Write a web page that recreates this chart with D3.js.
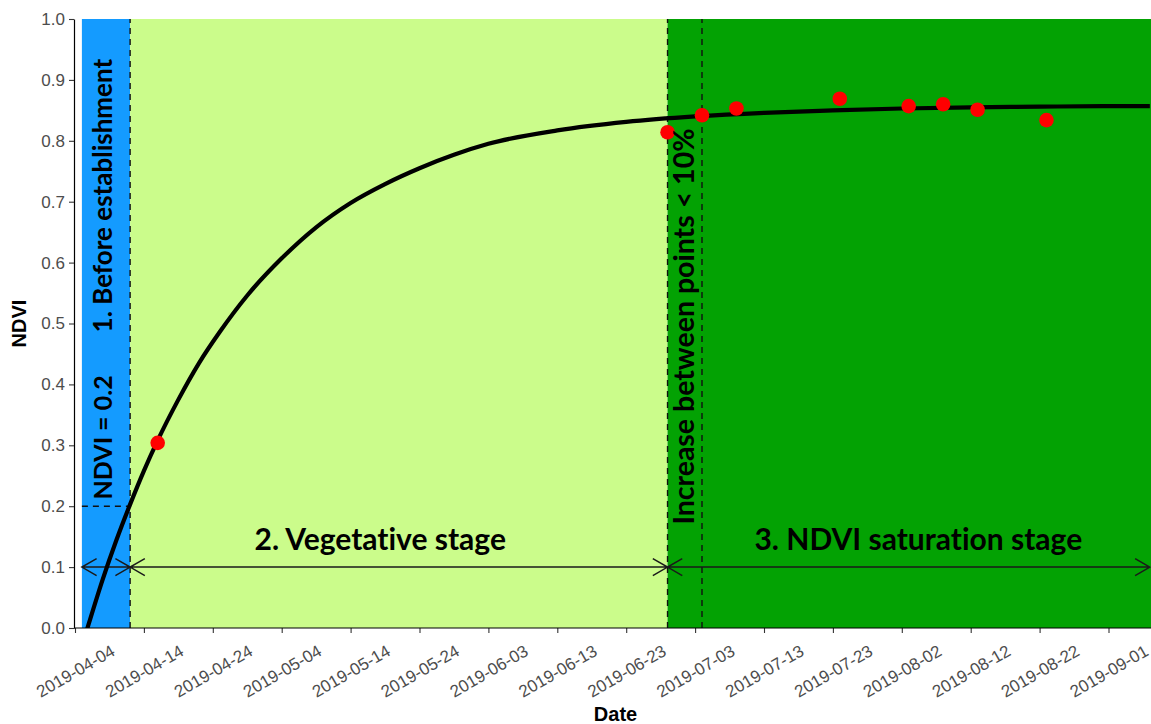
<!DOCTYPE html>
<html>
<head>
<meta charset="utf-8">
<script src="https://cdn.jsdelivr.net/npm/d3@7"></script>
<style>
    body { margin: 0; background: #fff; }
    svg { display: block; }
    text { font-variant-ligatures: none; }
</style>
</head>
<body>
<div class="Canvas"></div>
<script>
// fitted NDVI curve
const curveDates = ['2019-04-05', '2019-04-06', '2019-04-08', '2019-04-10', '2019-04-12', '2019-04-14',
    '2019-04-16', '2019-04-19', '2019-04-22', '2019-04-25', '2019-04-29', '2019-05-04', '2019-05-09',
    '2019-05-14', '2019-05-19', '2019-05-24', '2019-05-29', '2019-06-03', '2019-06-13', '2019-06-23',
    '2019-07-03', '2019-07-13', '2019-07-23', '2019-08-02', '2019-08-12', '2019-08-22', '2019-09-01', '2019-09-07'];
const curveNdvi = [-0.03, 0.007, 0.079, 0.144, 0.203, 0.258,
    0.308, 0.375, 0.435, 0.486, 0.546, 0.607, 0.658,
    0.698, 0.729, 0.755, 0.777, 0.795, 0.817, 0.831,
    0.84, 0.846, 0.85, 0.853, 0.855, 0.856, 0.857, 0.857];

// observed NDVI (red points)
const pointDates = ['2019-04-16', '2019-06-29', '2019-07-04', '2019-07-09', '2019-07-24',
    '2019-08-03', '2019-08-08', '2019-08-13', '2019-08-23'];
const pointNdvi = [0.304, 0.814, 0.842, 0.853, 0.869, 0.857, 0.86, 0.851, 0.834];

// stage limits: before establishment / vegetative / saturation
const stageStarts = ['2019-04-05', '2019-04-12', '2019-06-29'];
const stageEnds = ['2019-04-12', '2019-06-29', '2019-09-07'];
const stageNames = ['1. Before establishment', '2. Vegetative stage', '3. NDVI saturation stage'];
const stageColors = ['#149BFF', '#CBFC8B', '#03A203'];

const dashedDates = ['2019-04-12', '2019-06-29', '2019-07-04'];
const thresholdNdvi = 0.2;
const arrowNdvi = 0.1;

const xTickLabels = ['2019-04-04', '2019-04-14', '2019-04-24', '2019-05-04', '2019-05-14', '2019-05-24',
    '2019-06-03', '2019-06-13', '2019-06-23', '2019-07-03', '2019-07-13', '2019-07-23', '2019-08-02',
    '2019-08-12', '2019-08-22', '2019-09-01'];
const yTickValues = [0, 0.1, 0.2, 0.3, 0.4, 0.5, 0.6, 0.7, 0.8, 0.9, 1.0];

const width = 1151;
const height = 724;
const panelLeft = 74;
const panelTop = 19;
const panelBottom = 628;
const labelFont = 'Lato, "Open Sans", sans-serif';
const axisFont = '"Liberation Sans", Arial, sans-serif';

const parse = d3.utcParse('%Y-%m-%d');
const dayMs = 864e5;

const x = d3.scaleUtc().domain([parse('2019-04-04'), parse('2019-09-01')]).range([75, 1108.5]);
const y = d3.scaleLinear().domain([0, 1]).range([panelBottom, panelTop]);
const xd = (s, shift = 0) => x(new Date(parse(s).getTime() + shift * dayMs));

const svg = d3.select('.Canvas').append('svg').attr('width', width).attr('height', height);

svg.append('defs').append('clipPath').attr('id', 'panel')
    .append('rect').attr('x', panelLeft).attr('y', panelTop)
    .attr('width', width - panelLeft).attr('height', panelBottom - panelTop);

let g = svg.append('g').attr('clip-path', 'url(#panel)');

// stage backgrounds
g.selectAll('rect.stage')
    .data(stageStarts)
    .enter()
    .append('rect')
    .attr('class', 'stage')
    .attr('x', (d) => x(parse(d)))
    .attr('y', y(1))
    .attr('width', (d, i) => (i == 2 ? width : x(parse(stageEnds[i]))) - x(parse(d)))
    .attr('height', y(0) - y(1))
    .attr('fill', (d, i) => stageColors[i]);

// dashed limits
g.selectAll('line.limit')
    .data(dashedDates)
    .enter()
    .append('line')
    .attr('x1', (d) => x(parse(d)))
    .attr('x2', (d) => x(parse(d)))
    .attr('y1', y(0))
    .attr('y2', y(1))
    .attr('stroke', '#111')
    .attr('stroke-width', 1.4)
    .attr('stroke-dasharray', '6,5');

g.append('line')
    .attr('x1', x(parse(stageStarts[0])))
    .attr('x2', x(parse(stageEnds[0])))
    .attr('y1', y(thresholdNdvi))
    .attr('y2', y(thresholdNdvi))
    .attr('stroke', '#111')
    .attr('stroke-width', 1.4)
    .attr('stroke-dasharray', '6,5');

// double arrows for each stage
const headLen = 17;
const head = (tx, ty, dir) => {
    let dx = headLen * Math.cos(Math.PI / 6) * dir;
    let dy = headLen * Math.sin(Math.PI / 6);
    return `M${tx - dx},${ty - dy}L${tx},${ty}L${tx - dx},${ty + dy}`;
};
stageStarts.forEach((s, i) => {
    let x1 = x(parse(s));
    let x2 = x(parse(stageEnds[i]));
    let ay = y(arrowNdvi);
    g.append('path')
        .attr('d', `M${x1},${ay}L${x2},${ay}` + head(x1, ay, -1) + head(x2, ay, 1))
        .attr('fill', 'none')
        .attr('stroke', '#1a1a1a')
        .attr('stroke-width', 1.5);
});

// fitted curve
let line = d3.line()
    .x((d, i) => x(parse(curveDates[i])))
    .y((d) => y(d))
    .curve(d3.curveMonotoneX);
g.append('path')
    .attr('d', line(curveNdvi))
    .attr('fill', 'none')
    .attr('stroke', 'black')
    .attr('stroke-width', 4.2)
    .attr('stroke-linejoin', 'round');

// observed points
g.selectAll('circle.obs')
    .data(pointNdvi)
    .enter()
    .append('circle')
    .attr('class', 'obs')
    .attr('cx', (d, i) => x(parse(pointDates[i])))
    .attr('cy', (d) => y(d))
    .attr('r', 7.3)
    .attr('fill', '#FF0000');

// annotations
const annot = g.append('g').attr('font-family', labelFont).attr('font-weight', 'bold').attr('fill', 'black');
annot.append('text')
    .attr('transform', `translate(${xd('2019-04-09', 0.4)},${y(0.71)}) rotate(-90)`)
    .attr('text-anchor', 'middle')
    .attr('font-size', '26px')
    .text(stageNames[0]);
annot.append('text')
    .attr('transform', `translate(${xd('2019-04-09', 0.4)},${y(0.313)}) rotate(-90)`)
    .attr('text-anchor', 'middle')
    .attr('font-size', '25px')
    .text('NDVI = 0.2');
annot.append('text')
    .attr('transform', `translate(${xd('2019-06-30', 2.9)},${y(0.495)}) rotate(-90)`)
    .attr('text-anchor', 'middle')
    .attr('font-size', '28.5px')
    .text('Increase between points < 10%');
annot.append('text')
    .attr('x', xd('2019-05-18', 0.3))
    .attr('y', y(0.128))
    .attr('text-anchor', 'middle')
    .attr('font-size', '30px')
    .text(stageNames[1]);
annot.append('text')
    .attr('x', xd('2019-08-04', 0.4))
    .attr('y', y(0.128))
    .attr('text-anchor', 'middle')
    .attr('font-size', '30px')
    .text(stageNames[2]);

// axes
let yAxis = svg.append('g')
    .attr('transform', `translate(${panelLeft},0)`)
    .call(d3.axisLeft(y).tickValues(yTickValues).tickFormat(d3.format('.1f')).tickSize(5).tickSizeOuter(0).tickPadding(4));
let xAxis = svg.append('g')
    .attr('transform', `translate(0,${panelBottom})`)
    .call(d3.axisBottom(x).tickValues(xTickLabels.map(parse)).tickFormat(d3.utcFormat('%Y-%m-%d')).tickSize(5).tickSizeOuter(0));
xAxis.select('.domain').remove();
xAxis.append('line')
    .attr('x1', panelLeft)
    .attr('x2', width)
    .attr('stroke', 'black')
    .attr('stroke-width', 1.2);
yAxis.select('.domain').attr('stroke', 'black').attr('stroke-width', 1.2);

[xAxis, yAxis].forEach((a) => {
    a.selectAll('.tick line').attr('stroke', '#333').attr('stroke-width', 1.1);
    a.selectAll('.tick text')
        .attr('fill', '#4D4D4D')
        .attr('font-size', '17px')
        .attr('font-family', axisFont);
});
xAxis.selectAll('.tick text')
    .attr('y', 0)
    .attr('dy', '0.35em')
    .attr('text-anchor', 'middle')
    .attr('transform', 'translate(0,43) rotate(-30)');

svg.append('text')
    .attr('transform', `translate(26,${(panelTop + panelBottom) / 2}) rotate(-90)`)
    .attr('text-anchor', 'middle')
    .attr('font-family', axisFont)
    .attr('font-weight', 'bold')
    .attr('font-size', '20px')
    .text('NDVI');
svg.append('text')
    .attr('x', (panelLeft + width) / 2 + 3)
    .attr('y', 721)
    .attr('text-anchor', 'middle')
    .attr('font-family', axisFont)
    .attr('font-weight', 'bold')
    .attr('font-size', '20px')
    .text('Date');
</script>
</body>
</html>
